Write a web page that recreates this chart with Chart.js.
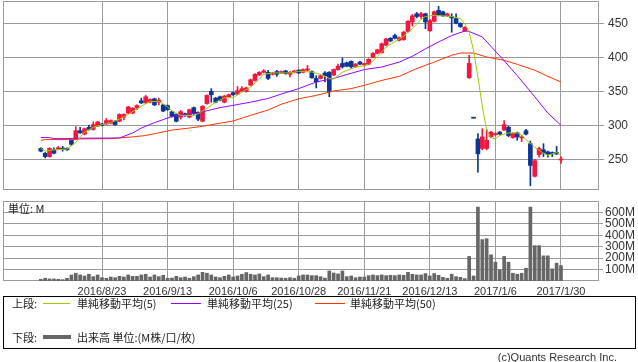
<!DOCTYPE html>
<html>
<head>
<meta charset="utf-8">
<script src="https://cdn.jsdelivr.net/npm/chart.js@4.4.0/dist/chart.umd.min.js"></script>
<style>
  body { margin: 0; background: #fff; width: 638px; height: 362px; position: relative; overflow: hidden;
         font-family: "Noto Sans CJK JP", sans-serif; color: #222; }
  canvas { position: absolute; left: 0; }
  #price { top: 0; }
  #vol { top: 195px; }
  .txt { position: absolute; font-size: 11px; line-height: 12px; white-space: nowrap; }
  .ln { position: absolute; height: 1px; }
  #legendBox { position: absolute; left: 3px; top: 296px; width: 633px; height: 53px; border: 1px solid #000; box-sizing: border-box; }
</style>
</head>
<body>
<canvas id="price" width="638" height="200"></canvas>
<canvas id="vol" width="638" height="105"></canvas>
<div class="txt" style="left:8px;top:202px;">単位: M</div>

<div id="legendBox"></div>
<div class="txt" style="left:12px;top:297px;">上段:</div>
<div class="ln" style="left:43px;top:303px;width:27px;background:#99cc00;"></div>
<div class="txt" style="left:77px;top:297px;">単純移動平均(5)</div>
<div class="ln" style="left:171px;top:303px;width:30px;background:#9900ff;"></div>
<div class="txt" style="left:207px;top:297px;">単純移動平均(25)</div>
<div class="ln" style="left:315px;top:303px;width:30px;background:#ff3300;"></div>
<div class="txt" style="left:350px;top:297px;">単純移動平均(50)</div>
<div class="txt" style="left:12px;top:331px;">下段:</div>
<div class="ln" style="left:43px;top:335px;width:28px;height:4px;background:#666;"></div>
<div class="txt" style="left:77px;top:331px;">出来高 単位:(M株/口/枚)</div>
<div class="txt" style="right:21px;top:351px;color:#333;font-family:'Liberation Sans',sans-serif;">(c)Quants Research Inc.</div>

<script>
// daily candles, index 0 = first day shown
const opens  = [266,259,254,264,265,266,266,278,281,292,287,297,294,299,302,302,303,306,306,312,
                318,318,326,336,333,334,339,334,330,329,320,316,312,317,312,326,319,306,332,350,
                340,342,334,342,348,346,350,350,359,366,374,378,378,375,379,377,380,375,378,381,
                378,381,379,369,369,377,378,374,382,391,392,394,386,393,389,390,400,406,407,418,
                428,432,425,426,438,452,464,460,464,439,453,469,467,461,460,457,450,439,370,311.5,
                280,266,266,283,286.5,290,293,297,282,289,281.5,292,273,225,257,264,261,260,260,249];
const highs  = [267,260,267,267,269,269,267,278,298,297,296,300,305,306,303,310,308,307,317,317,
                328,326,330,340,344,339,340,340,331,330,321,317,322,318,324,327,320,329,345,354,
                341,343,344,346,349,357,357,356,368,376,379,382,381,378,381,380,381,379,381,382,
                383,388,380,373,374,379,379,383,390,399,393,395,391,394,391,398,407,412,421,428,
                429,434,430,438,454,463,466,466,465,456,468,475,468,465,464,464,451,445,403,311.5,
                288,295,294,291,289,291,307,299,289,290,285,294,277,250,268,273,262,261,269,254];
const lows   = [261,252,253,258,264,262,263,270,279,288,286,293,293,298,299,301,302,300,305,308,
                317,317,323,332,332,333,329,330,320,322,312,305,309,313,311,316,307,305,331,334,
                333,336,333,341,344,345,349,349,358,365,373,377,367,374,372,376,375,371,377,376,
                377,380,369,355,368,364,342,373,381,384,386,384,385,389,387,389,399,405,406,417,
                423,427,424,425,437,446,458,457,442,438,452,461,460,460,437,449,444,438,369,310.5,
                231,264,264,282,285,286,292,283,281,278,276,286,211,224,253,254,253,254,257,244];
const closes = [262,254,266,259,267,265,264,272,292,289,295,294,301,305,300,307,307,301,316,316,
                327,325,329,333,342,338,330,337,321,323,313,306,320,314,323,317,309,328,344,345,
                334,337,343,345,345,351,354,355,367,375,378,380,369,377,375,379,376,378,380,377,
                382,383,370,364,373,373,350,382,387,386,387,386,390,390,391,397,406,411,420,427,
                424,428,429,437,453,461,460,464,452,454,467,462,461,464,458,450,445,444,391,310.5,
                258,283,278,290,287.5,287,301,285,288,283,282.5,287,241,248,266,259,257,258,258,250];
const volumes = [15,24,18,18,15,12,24,53,68,53,44,59,38,53,29,24,35,29,41,35,
                 53,41,41,53,59,35,53,38,50,24,26,41,29,35,24,38,53,76,68,53,
                 35,29,41,53,35,44,59,74,59,53,62,38,53,29,29,26,24,29,24,44,
                 53,53,47,47,38,26,88,70,62,88,38,44,29,35,35,47,53,47,53,47,
                 50,47,53,50,76,59,53,53,65,44,65,50,32,24,59,38,32,21,215,44,
                 647,362,370,229,165,97,215,165,68,59,68,112,647,309,309,220,220,106,156,135];

// moving averages as [day index, value]
const ma5 = [[0,266],[1,262],[3,264],[6,265],[8,275],[10,290],[12,297],[14,301],[16,304],[18,309],
             [20,316],[22,324],[24,332],[25,334.6],[27,335.5],[29,327],[30,321],[32,314.5],[35,314.5],[36,317],
             [38,325],[40,334],[42,340.6],[44,340.6],[46,349],[48,356],[50,368],[51,375],[53,377],[57,377],
             [59,379.4],[62,378.4],[64,375],[66,369],[67,368],[69,378],[72,385.7],[75,389],[77,401],[79,415],
             [81,423],[83,431],[85,442],[87,456],[88,460],[90,461.8],[94,460],[96,457],[97,449.5],[98,437],
             [99,410],[100,371],[101,328],[102,293],[103,282],[104,280.4],[105,285],[107,289],[109,288.7],[110,286],
             [111,279],[113,268],[115,259],[116,256],[118,260],[119,256]];
const ma25 = [[0,282],[2,282],[3,280.4],[6,280.4],[8,281],[18,281.4],[21,288.7],[23,296],[26,304],[28,308.4],
              [30,313],[33,316],[36,318],[39,323],[41,326],[44,329.4],[48,334],[52,339.5],[55,346],[59,354],
              [63,363.7],[67,369],[71,376.5],[74,382],[78,385.7],[82,393],[85,401.5],[88,412.5],[91,422.5],[94,432],
              [97,438.7],[98,438],[101,430],[103,416],[106,395],[109,373],[113,342],[116,318],[119,300]];
const ma50 = [[0,278],[1,279],[8,279],[9,280],[16,280.4],[18,281.5],[21,283],[24,285],[27,289],[30,293],
              [34,296],[37,298.5],[40,302],[44,306.3],[48,314.7],[52,322.5],[55,331],[59,339],[63,344],[67,350.5],
              [71,354],[74,358.8],[78,366],[82,372],[86,383.4],[90,393],[94,403],[96,406.3],[99,406.3],[102,400.5],
              [106,395.6],[109,389.7],[113,381],[116,372],[119,363.7]];

const gridIdx = [14, 29, 44, 59, 74, 89, 104, 119];
const dateLabels = ['2016/8/23','2016/9/13','2016/10/6','2016/10/28','2016/11/21','2016/12/13','2017/1/6','2017/1/30'];
const priceTicks = [250, 300, 350, 400, 450];
const volTicks = [100, 200, 300, 400, 500, 600];

const UP = '#f5163f', DOWN = '#0c3694', GRID = '#9a9a9a';
const X_MIN = -8.65, X_MAX = 127.7;

const candleColors = opens.map((o, i) => closes[i] >= o ? UP : DOWN);

// gray frame round the plot area
const framePlugin = {
  id: 'frame',
  beforeDatasetsDraw(chart) {
    const { ctx, chartArea: a } = chart;
    ctx.save();
    ctx.strokeStyle = GRID;
    ctx.lineWidth = 1;
    ctx.strokeRect(Math.round(a.left) + 0.5, Math.round(a.top) + 0.5,
                   Math.round(a.right - a.left) - 1, Math.round(a.bottom - a.top) - 1);
    ctx.restore();
  }
};

function xScale(showLabels) {
  return {
    type: 'linear', min: X_MIN, max: X_MAX, offset: false,
    grid: { color: GRID, drawTicks: false, offset: false },
    border: { display: false },
    ticks: {
      display: showLabels, color: '#333', padding: 4, maxRotation: 0, autoSkip: false,
      font: { family: 'Liberation Sans', size: 11 },
      callback: v => dateLabels[gridIdx.indexOf(v)]
    },
    afterBuildTicks: s => { s.ticks = gridIdx.map(v => ({ value: v })); },
    afterFit: s => { s.height = showLabels ? 19 : 0; s.paddingLeft = 0; s.paddingRight = 0; }
  };
}

function maLine(points, color) {
  return {
    type: 'line', data: points.map(([x, y]) => ({ x, y })),
    borderColor: color, borderWidth: 1, pointRadius: 0, tension: 0, order: 0
  };
}

new Chart(document.getElementById('price'), {
  type: 'bar',
  data: {
    datasets: [
      maLine(ma5, '#99cc00'),
      maLine(ma25, '#9900ff'),
      maLine(ma50, '#ff3300'),
      {
        type: 'bar', data: lows.map((l, i) => ({ x: i, y: [l, highs[i]] })),
        backgroundColor: candleColors, barThickness: 1, grouped: false, order: 2
      },
      {
        type: 'bar', data: opens.map((o, i) => ({ x: i, y: [o, closes[i]] })),
        backgroundColor: candleColors, barThickness: 4, minBarLength: 1, grouped: false, order: 1
      }
    ]
  },
  options: {
    responsive: false,
    animation: false,
    layout: { padding: { left: 3, top: 1, right: 0, bottom: 10 } },
    plugins: { legend: { display: false }, tooltip: { enabled: false } },
    scales: {
      x: xScale(false),
      y: {
        position: 'right', min: 204.9, max: 482.8,
        grid: { color: GRID, tickLength: 5 },
        border: { display: false },
        ticks: { color: '#333', padding: 4, autoSkip: false, font: { family: 'Liberation Sans', size: 12 } },
        afterBuildTicks: s => { s.ticks = priceTicks.map(v => ({ value: v })); },
        afterFit: s => { s.width = 39; s.paddingTop = 0; s.paddingBottom = 0; }
      }
    }
  },
  plugins: [framePlugin]
});

new Chart(document.getElementById('vol'), {
  type: 'bar',
  data: {
    datasets: [{
      data: volumes.map((v, i) => ({ x: i, y: v })),
      backgroundColor: '#666', barThickness: 3
    }]
  },
  options: {
    responsive: false,
    animation: false,
    layout: { padding: { left: 3, top: 6, right: 0, bottom: 0 } },
    plugins: { legend: { display: false }, tooltip: { enabled: false } },
    scales: {
      x: xScale(true),
      y: {
        position: 'right', min: 0, max: 700,
        grid: { color: GRID, tickLength: 4 },
        border: { display: false },
        ticks: { color: '#333', padding: 2, autoSkip: false, font: { family: 'Liberation Sans', size: 12 },
                 callback: v => v + 'M' },
        afterBuildTicks: s => { s.ticks = volTicks.map(v => ({ value: v })); },
        afterFit: s => { s.width = 39; s.paddingTop = 0; s.paddingBottom = 0; }
      }
    }
  },
  plugins: [framePlugin]
});
</script>
</body>
</html>
